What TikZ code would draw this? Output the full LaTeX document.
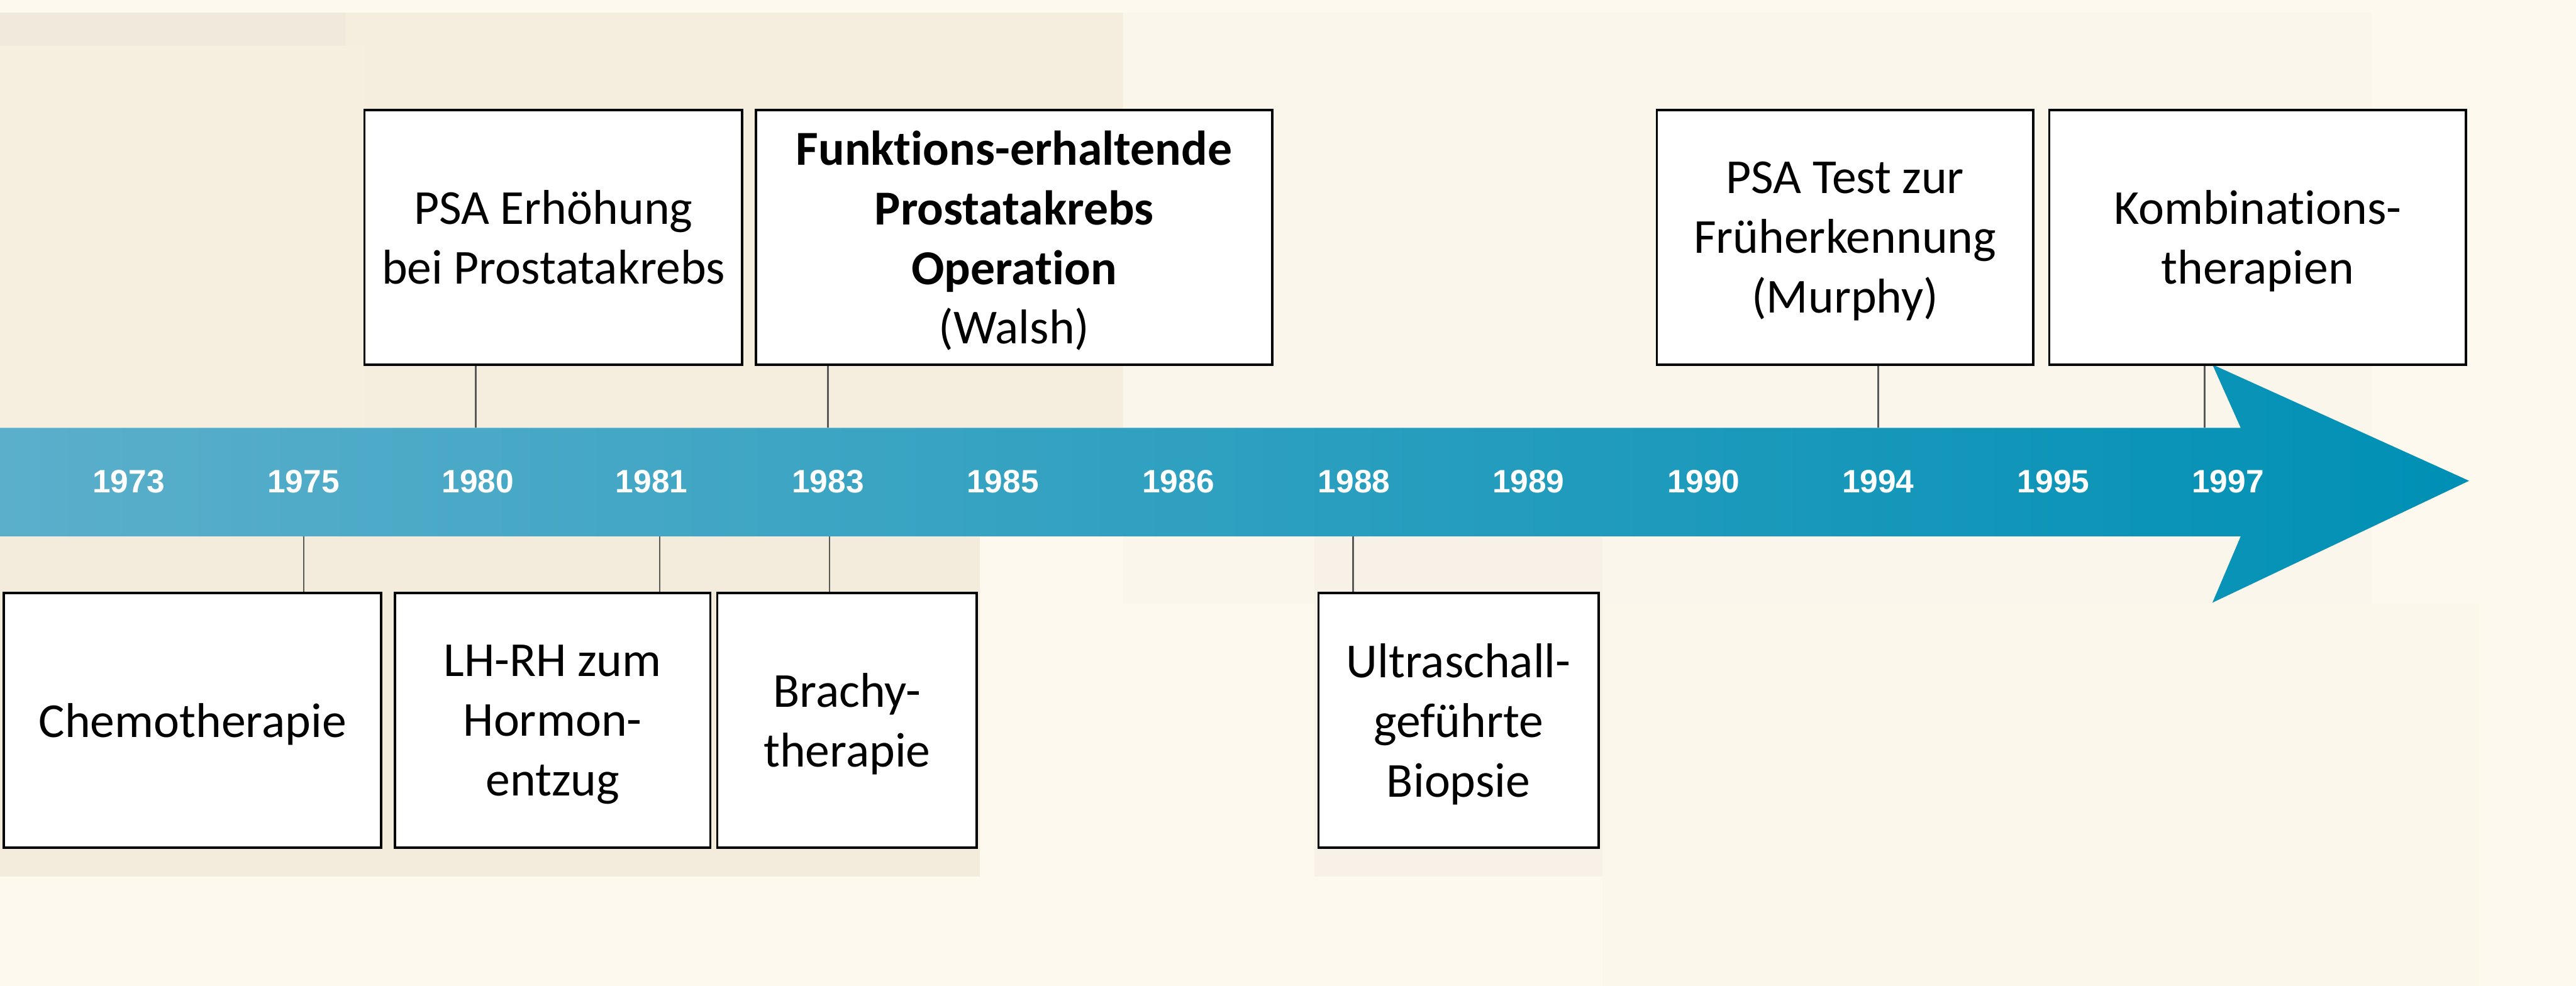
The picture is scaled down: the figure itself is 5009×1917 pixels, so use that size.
\documentclass[tikz,border=0pt]{standalone}
\usepackage{fontspec}
\newfontfamily\boxfont[Ligatures=NoCommon]{Carlito}
\newfontfamily\yearfont{Liberation Sans}
\definecolor{bgbase}{HTML}{FDF9EF}
\definecolor{bgA}{HTML}{F5EDDE}
\definecolor{bgA2}{HTML}{F1EADC}
\definecolor{bgB}{HTML}{F6EEDF}
\definecolor{bgC}{HTML}{F3EBDB}
\definecolor{bgD}{HTML}{FBF6EC}
\definecolor{bgE}{HTML}{F8F1E8}
\definecolor{bgF}{HTML}{FCF7EB}
\definecolor{bandL}{HTML}{5BAFCB}
\definecolor{bandM}{HTML}{1E9EC0}
\definecolor{bandR}{HTML}{0090B5}
\definecolor{connGray}{HTML}{5A5A5A}
\begin{document}
\begin{tikzpicture}[x=0.01cm,y=-0.01cm,
  evbox/.style={draw=black,line width=1.3pt,fill=white,inner sep=0pt,align=center,
    minimum height=4.95cm,text depth=0pt,font=\boxfont\fontsize{27}{33}\selectfont},
  year/.style={text=white,font=\yearfont\bfseries\fontsize{17.9}{20}\selectfont,inner sep=0pt},
  conn/.style={draw=connGray,line width=0.8pt}]
\useasboundingbox (0,0) rectangle (5009,1917);
% background
\fill[bgbase] (0,0) rectangle (5009,1917);
\fill[bgA] (0,25) rectangle (2184,832);
\fill[bgA2] (0,25) rectangle (673,89);
\fill[bgB] (0,89) rectangle (709,832);
\fill[bgD] (2184,25) rectangle (4612,1174);
\fill[bgC] (0,1043) rectangle (1905,1705);
\fill[bgE] (2556,1043) rectangle (3116,1705);
\fill[bgF] (3116,1174) rectangle (4820,1917);
% connector end points on the band
\coordinate (t1980) at (925,832);
\coordinate (t1983) at (1610,832);
\coordinate (t1994) at (3652,832);
\coordinate (t1997) at (4287,832);
\coordinate (b1975) at (591,1043);
\coordinate (b1981) at (1283,1043);
\coordinate (b1983) at (1613,1043);
\coordinate (b1988) at (2631,1043);
% arrow
\shade[left color=bandL,middle color=bandM,right color=bandR]
  (0,832) -- (4357,832) -- (4302,709) -- (4801,935) -- (4302,1172) -- (4357,1043) -- (0,1043) -- cycle;
% boxes
\node[evbox,minimum width=7.34cm] (psa1) at (1076,461.5) {PSA Erhöhung\\bei Prostatakrebs};
\node[evbox,minimum width=10.04cm] (walsh) at (1972,461.5) {\textbf{Funktions-erhaltende}\\\textbf{Prostatakrebs}\\\textbf{Operation}\\(Walsh)};
\node[evbox,minimum width=7.31cm] (psa2) at (3587.5,461.5) {PSA Test zur\\Früherkennung\\(Murphy)};
\node[evbox,minimum width=8.10cm] (kombi) at (4390,461.5) {Kombinations-\\therapien};
\node[evbox,minimum width=7.33cm] (chemo) at (374.5,1400.5) {Chemotherapie};
\node[evbox,minimum width=6.13cm] (lhrh) at (1074.5,1400.5) {LH-RH zum\\Hormon-\\entzug};
\node[evbox,minimum width=5.04cm] (brachy) at (1647,1400.5) {Brachy-\\therapie};
\node[evbox,minimum width=5.44cm] (ultra) at (2836,1400.5) {Ultraschall-\\geführte\\Biopsie};
\draw[conn] (psa1.south -| t1980) -- (t1980);
\draw[conn] (walsh.south -| t1983) -- (t1983);
\draw[conn] (psa2.south -| t1994) -- (t1994);
\draw[conn] (kombi.south -| t1997) -- (t1997);
\draw[conn] (b1975) -- (b1975 |- chemo.north);
\draw[conn] (b1981) -- (b1981 |- lhrh.north);
\draw[conn] (b1983) -- (b1983 |- brachy.north);
\draw[conn] (b1988) -- (b1988 |- ultra.north);
% years
\foreach \yr/\xx in {1973/250,1975/590,1980/929,1981/1267,1983/1610,1985/1950,1986/2291,1988/2633,1989/2972,1990/3313,1994/3652,1995/3993,1997/4332}
  \node[year] (y\yr) at (\xx,936) {\yr};
\end{tikzpicture}
\end{document}
